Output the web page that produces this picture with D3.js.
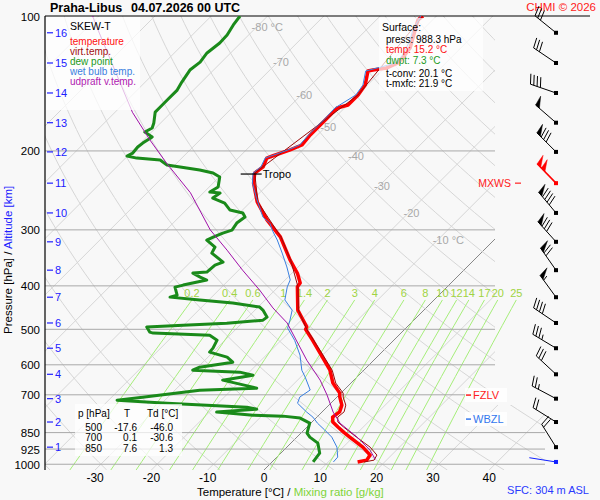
<!DOCTYPE html>
<html><head><meta charset="utf-8">
<script src="https://cdn.jsdelivr.net/npm/d3@7"></script>
<style>
body{margin:0;background:#f8f8f8;}
svg{display:block;font-family:"Liberation Sans",Arial,Helvetica,sans-serif;}
</style>
</head><body>
<svg id="c" width="600" height="500"></svg>
<script>
// ---------------- DATA ----------------
const pressureTicks = [100,200,300,400,500,600,700,850,925,1000];
const tempTicks = [-30,-20,-10,0,10,20,30,40];
const altKm = [1,2,3,4,5,6,7,8,9,10,11,12,13,14,15,16];
const altP  = [916,805,714,630,551,484,424,369,319,275,236,201,173,148.5,127.3,109];
const mixRatios = [0.2,0.4,0.6,1,1.4,2,3,4,6,8,10,12,14,17,20,25];
const isoLabelT = [-80,-70,-60,-50,-40,-30,-20,-10];
const isoLabelP = [105.8,126.6,150,177,205,239.6,275,316];

const tempP = [988.3,979,954,916,870,850,826,805,785,764,738,708,694,659,617,565,529,500,494,453,402,394,375,350,311,285,260,236,224,217,207.5,205,199,194,184,175,169,160.4,158,150,142.6,132.7,132,130.6,127.3,122.2,117.9,113.7,107.5,103.7,102,100];
const tempT = [15.2,16.5,16.2,13.5,9.4,7.6,5.5,3.7,2.8,3.1,2.3,0.5,-0.2,-3.2,-6.0,-10.8,-14.4,-17.6,-17.8,-22.4,-26.6,-26.8,-29.0,-32.7,-38.5,-43.9,-48.8,-52.8,-54.4,-54.0,-54.9,-54.2,-52.2,-51.0,-51.3,-51.3,-51.3,-51.3,-49.9,-49.9,-50.4,-52.4,-51.7,-49.6,-48.5,-48.7,-49.0,-49.9,-51.3,-52.2,-52.6,-52.4];

const virtP = [988.3,979,954,916,870,826,805,785,764,738,708,694,659,617,565,500,453,402,350,311,260,224,150,100];
const virtT = [16.4,17.8,17.4,14.8,10.6,6.5,4.6,3.7,3.9,3.0,1.1,0.4,-2.7,-5.6,-10.5,-17.4,-22.3,-26.5,-32.6,-38.4,-48.7,-54.4,-49.9,-52.4];

const dewP = [988.3,944.6,897.3,870,852.4,809.7,789,781,777.1,765,753.5,746,730.6,719.5,708.5,683.4,676.9,673,649.2,632.8,623.1,616.7,607.3,591.9,576.8,562.2,550.8,528.6,515.2,509.8,507.2,494.4,489.4,484.4,477,469.7,452.9,446.1,437,430.3,423.8,419.4,402.5,398.4,388.3,382.4,374.6,372.7,359.5,354,338,327.7,316.2,311.3,305,300.3,289.7,280.9,275.2,271,261.4,254.8,248.3,247,240.8,228.7,224,220.6,217.3,215,209.6,207.5,205.3,202.2,196,192.1,186.2,181.5,177.8,173.3,163.8,159.6,154,146.3,140.4,132,126.7,120.9,114.9,110.3,104.7,100];
const dewT = [7.3,6.9,4.8,2.3,1.1,-0.2,-2.8,-6.2,-11.7,-18.7,-12.1,-14.2,-29.1,-38.5,-34.5,-25.6,-15.8,-16.7,-23.3,-18.8,-21.7,-30.4,-29.7,-24.7,-26.6,-30.6,-30.7,-31.4,-33.6,-44.0,-44.8,-46.2,-40.1,-32.7,-26.8,-26.6,-28.6,-29.7,-35.2,-41.6,-47.4,-46.5,-48.3,-47.2,-43.9,-45.6,-47.6,-45.3,-45.1,-44.2,-47.8,-48.3,-51.0,-50.4,-49.4,-48.3,-48.7,-48.3,-49.4,-52.2,-54.4,-57.4,-57.0,-59.0,-58.4,-59.9,-61.8,-64.7,-68.7,-71.4,-73.5,-78.0,-80.1,-79.6,-79.8,-79.6,-79.0,-81.2,-80.6,-81.2,-82.9,-82.9,-82.9,-82.9,-83.5,-84.2,-83.8,-84.2,-83.7,-83.8,-84.5,-84.9];

const wetP = [988.3,964,916,870,839,810,785,765,731,708,683,639,617,571,529,497,477,453,430,402,388,363,338,316,303,290,281,255,236,224,217,207.5,199,194,184,169,160.4,150,142.6,132.7,127.3,122.2,113.7,107.5,100];
const wetT = [10.9,10.8,8.9,6.2,3.7,1.2,-0.7,-2.7,-5.9,-6.6,-6.0,-9.2,-11.0,-14.0,-17.6,-21.0,-22.0,-23.4,-26.5,-28.4,-29.1,-32.0,-35.3,-38.5,-40.7,-42.8,-45.1,-49.6,-53.0,-54.7,-54.4,-55.2,-52.6,-51.4,-51.6,-51.6,-51.7,-50.3,-50.8,-52.8,-48.9,-49.1,-50.3,-51.7,-52.8];

const updP = [974,930,870,810,765,701,649,586,484,448,409,369,333,300,248,213,189,164,106,100];
const updT = [17.8,15.3,10.7,5.2,2.0,-2.1,-6.0,-11.9,-22.0,-27.2,-32.7,-39.3,-45.6,-52.2,-62.3,-71.8,-78.9,-86.9,-108.3,-111.1];

const windP   = [988.3,916,805,714,630,551,484,424,369,319,275,236,201,173,148.5,127.3,109];
const windDir = [279,328,302,298,313,301,304,324,325,318,320,316,315,311,289,304,309];
const windSpd = [3,20,20,25,30,35,40,55,70,80,90,100,80,50,40,30,30];
const maxWindP = 236;

const tropoP = 225.2, tropoT = -54.4;
const fzlvP = 701, wbzlP = 793;

const tableP  = [500,700,850];
const tableT  = ["-17.6","0.1","7.6"];
const tableTd = ["-46.0","-30.6","1.3"];

const surfaceLines = ["press: 988.3 hPa","temp: 15.2 °C","dwpt: 7.3 °C","t-conv: 20.1 °C","t-mxfc: 21.9 °C"];
const legendNames = ["temperature","virt.temp.","dew point","wet bulb temp.","udpraft v.temp."];
const legendColors = ["#ff1010","#a01010","#1a9a1a","#3a80e0","#b020b0"];

// ---------------- SCALES ----------------
const svg = d3.select("#c");
svg.append("rect").attr("width",600).attr("height",500).attr("fill","#f8f8f8");
const PL = 45, PR = 495, PT = 16, PB = 470;
const y = d3.scaleLog().domain([100,1030]).range([PT,PB]);
const xT = d3.scaleLinear().domain([-40,40]).range([264-225.2,264+225.2]);
const sx = (T,p) => xT(T) + (PB - y(p));

const defs = svg.append("defs");
const cp = defs.append("clipPath").attr("id","gridclip");
cp.append("rect").attr("x",PL).attr("y",PT).attr("width",PR-PL).attr("height",PB-PT);
cp.append("rect").attr("x",PR).attr("y",405).attr("width",50).attr("height",PB-405);
const cp2 = defs.append("clipPath").attr("id","plotclip");
cp2.append("rect").attr("x",PL).attr("y",PT).attr("width",500).attr("height",PB-PT);

const grid = svg.append("g").attr("clip-path","url(#gridclip)");
const logSamples = (p0,p1,n) => d3.range(n+1).map(i => p0*Math.pow(p1/p0, i/n));

// isotherms
d3.range(-130,51,10).forEach(T => {
  grid.append("line")
    .attr("x1",sx(T,1030)).attr("y1",y(1030))
    .attr("x2",sx(T,100)).attr("y2",y(100))
    .attr("stroke",T===0?"#7a7a7a":"#d6d6d6").attr("stroke-width",T===0?0.9:1);
});
// dry adiabats
const pAd = logSamples(1030,100,60);
const lineTP = d3.line().x(d=>sx(d[1],d[0])).y(d=>y(d[0]));
d3.range(-60,251,10).forEach(th => {
  const pts = pAd.map(p => [p,(th+273.15)*Math.pow(p/1000,0.2857)-273.15]);
  grid.append("path").attr("d",lineTP(pts)).attr("fill","none").attr("stroke","#d6d6d6").attr("stroke-width",1);
});
// mixing ratio lines
const tdFromW = (w,p) => { const e = w*p/(622+w); const l = Math.log(e/6.112); return 243.5*l/(17.67-l); };
const mixTop = 430;
const mixG = svg.append("g");
mixRatios.forEach(w => {
  const pts = logSamples(1030,mixTop,20).map(p => [p,tdFromW(w,p)]);
  mixG.append("path").attr("d",lineTP(pts)).attr("fill","none").attr("stroke","#a6ee7a").attr("stroke-width",1);
  mixG.append("text").attr("x",sx(tdFromW(w,mixTop),mixTop)).attr("y",y(mixTop)-3)
    .attr("text-anchor","middle").attr("font-size",11).attr("fill","#9fd443").text(w);
});
// pressure lines
pressureTicks.forEach(p => {
  if (p===100) return;
  svg.append("line").attr("x1",PL).attr("x2",p>=850?545:PR).attr("y1",y(p)).attr("y2",y(p))
    .attr("stroke","#a8a8a8").attr("stroke-width",1);
});
svg.append("line").attr("x1",PL).attr("x2",590).attr("y1",y(100)).attr("y2",y(100)).attr("stroke","#000").attr("stroke-width",1.2);
svg.append("line").attr("x1",PL).attr("x2",PL).attr("y1",PT).attr("y2",PB).attr("stroke","#000").attr("stroke-width",1.2);

// isotherm labels
isoLabelT.forEach((T,i) => {
  const p = isoLabelP[i];
  svg.append("text").attr("x",sx(T,p)-5).attr("y",y(p)+4).attr("font-size",11).attr("fill","#a8a8a8")
    .text(T + ((T===-80||T===-10)?" °C":""));
});

// ---------------- PROFILES ----------------
const prof = svg.append("g").attr("clip-path","url(#plotclip)");
const zipP = (P,T) => P.map((p,i)=>[p,T[i]]);
prof.append("path").attr("d",lineTP(zipP(dewP,dewT))).attr("fill","none").attr("stroke","#1a8a1a").attr("stroke-width",3).attr("stroke-linejoin","round");
prof.append("path").attr("d",lineTP(zipP(tempP,tempT))).attr("fill","none").attr("stroke","#ff0000").attr("stroke-width",3.5).attr("stroke-linejoin","round");
prof.append("path").attr("d",lineTP(zipP(virtP,virtT))).attr("fill","none").attr("stroke","#9a0a0a").attr("stroke-width",1);
prof.append("path").attr("d",lineTP(zipP(wetP,wetT))).attr("fill","none").attr("stroke","#3a80e0").attr("stroke-width",1);
prof.append("path").attr("d",lineTP(zipP(updP,updT))).attr("fill","none").attr("stroke","#a010a8").attr("stroke-width",1);

// ---------------- BOXES ----------------
const font = (s,sz,fill) => s.attr("font-size",sz).attr("fill",fill||"#000");
svg.append("rect").attr("x",PL+1).attr("y",17).attr("width",94).attr("height",93).attr("fill","#fff").attr("opacity",0.72);
font(svg.append("text").attr("x",70).attr("y",30),10.5).text("SKEW-T");
legendNames.forEach((n,i) => font(svg.append("text").attr("x",70).attr("y",45+i*10),10,legendColors[i]).text(n));

svg.append("rect").attr("x",379).attr("y",18).attr("width",104).attr("height",73).attr("fill","#fff").attr("opacity",0.72);
font(svg.append("text").attr("x",382).attr("y",31),10.5).text("Surface:");
const sfcY = [42.5,53,63.5,76.5,87];
const sfcC = ["#000","#ff1010","#1a9a1a","#000","#000"];
surfaceLines.forEach((s,i) => font(svg.append("text").attr("x",386).attr("y",sfcY[i]),10,sfcC[i]).text(s));

svg.append("rect").attr("x",75).attr("y",404).attr("width",107).attr("height",52).attr("fill","#fff").attr("opacity",0.72);
font(svg.append("text").attr("x",78).attr("y",417),10).text("p [hPa]");
font(svg.append("text").attr("x",124).attr("y",417),10).text("T");
font(svg.append("text").attr("x",147).attr("y",417),10).text("Td [°C]");
tableP.forEach((p,i) => {
  const yy = 430.5 + i*10.5;
  font(svg.append("text").attr("x",102).attr("y",yy).attr("text-anchor","end"),10).text(p);
  font(svg.append("text").attr("x",137).attr("y",yy).attr("text-anchor","end"),10).text(tableT[i]);
  font(svg.append("text").attr("x",173).attr("y",yy).attr("text-anchor","end"),10).text(tableTd[i]);
});

// ---------------- AXES TEXT ----------------
pressureTicks.forEach(p => {
  font(svg.append("text").attr("x",40).attr("y",y(p)+4.5).attr("text-anchor","end"),11.5).text(p);
});
altKm.forEach((k,i) => {
  const yy = y(altP[i]);
  svg.append("line").attr("x1",47).attr("x2",53).attr("y1",yy).attr("y2",yy).attr("stroke","#2020ff").attr("stroke-width",1.2);
  font(svg.append("text").attr("x",55).attr("y",yy+4),11,"#2020ff").text(k);
});
tempTicks.forEach(T => {
  font(svg.append("text").attr("x",xT(T)).attr("y",482).attr("text-anchor","middle"),12).text(T);
});
const xt = font(svg.append("text").attr("x",197).attr("y",496),11.5);
xt.append("tspan").text("Temperature [°C]  /  ");
xt.append("tspan").attr("fill","#7fd43a").text("Mixing ratio [g/kg]");
const yt = font(svg.append("text").attr("transform","translate(12,334) rotate(-90)"),11.5);
yt.append("tspan").text("Pressure [hPa]  /  ");
yt.append("tspan").attr("fill","#2020ff").text("Altitude [km]");
font(svg.append("text").attr("x",589).attr("y",494).attr("text-anchor","end"),11,"#2a3aff").text("SFC: 304 m ASL");
font(svg.append("text").attr("x",596).attr("y",11).attr("text-anchor","end"),11.5,"#ff2020").text("CHMI © 2026");
font(svg.append("text").attr("x",50).attr("y",12).attr("font-weight","bold"),12.5).text("Praha-Libus");
font(svg.append("text").attr("x",131).attr("y",12).attr("font-weight","bold"),12.5).text("04.07.2026 00 UTC");

// tropopause
const tx = sx(tropoT,tropoP), ty = y(tropoP);
svg.append("line").attr("x1",tx-13).attr("x2",tx+8).attr("y1",ty).attr("y2",ty).attr("stroke","#000").attr("stroke-width",1.2);
font(svg.append("text").attr("x",tx+9).attr("y",ty+4),11).text("Tropo");

// FZLV / WBZL
[[fzlvP,"FZLV","#ff2020"],[wbzlP,"WBZL","#3377ee"]].forEach(d => {
  const yy = y(d[0]);
  svg.append("rect").attr("x",465).attr("y",yy-7).attr("width",42).attr("height",14).attr("fill","#fff").attr("opacity",0.85);
  svg.append("line").attr("x1",466).attr("x2",471).attr("y1",yy).attr("y2",yy).attr("stroke",d[2]).attr("stroke-width",1.5);
  font(svg.append("text").attr("x",473).attr("y",yy+4),11,d[2]).text(d[1]);
});
// MXWS
const my = y(maxWindP);
font(svg.append("text").attr("x",511).attr("y",my+4).attr("text-anchor","end"),10.5,"#ff2020").text("MXWS");
svg.append("line").attr("x1",515).attr("x2",521).attr("y1",my).attr("y2",my).attr("stroke","#ff2020").attr("stroke-width",1.2);

// ---------------- WIND BARBS ----------------
const bx = 556;
const barbs = svg.append("g");
windP.forEach((p,i) => {
  const cy = y(p), dir = windDir[i], spd = windSpd[i];
  const isMax = p===maxWindP, isSfc = i===0;
  const col = isMax ? "#ff0000" : (isSfc ? "#1020ff" : "#000");
  const sw = isMax ? 1.6 : 1;
  const a = dir*Math.PI/180;
  const ux = Math.sin(a), uy = -Math.cos(a);
  const rx = -uy, ry = ux;
  const L = 27;
  const P = s => [bx+ux*s, cy+uy*s];
  barbs.append("line").attr("x1",bx).attr("y1",cy).attr("x2",P(L)[0]).attr("y2",P(L)[1]).attr("stroke",col).attr("stroke-width",sw);
  let rem = Math.round(spd/5)*5, s = L;
  while (rem >= 50) {
    const a0 = P(s), a1 = P(s-5);
    const ap = [a0[0]+rx*10+ux*2, a0[1]+ry*10+uy*2];
    barbs.append("polygon").attr("points",[a0,a1,ap].map(q=>q.join(",")).join(" ")).attr("fill",col).attr("stroke",col).attr("stroke-width",0.5);
    s -= 6; rem -= 50;
  }
  while (rem >= 10) {
    const a0 = P(s);
    barbs.append("line").attr("x1",a0[0]).attr("y1",a0[1]).attr("x2",a0[0]+rx*10+ux*3).attr("y2",a0[1]+ry*10+uy*3).attr("stroke",col).attr("stroke-width",sw);
    s -= 3.5; rem -= 10;
  }
  if (rem >= 5 && spd >= 5) {
    if (s === L) s -= 3.5;
    const a0 = P(s);
    barbs.append("line").attr("x1",a0[0]).attr("y1",a0[1]).attr("x2",a0[0]+rx*5+ux*1.5).attr("y2",a0[1]+ry*5+uy*1.5).attr("stroke",col).attr("stroke-width",sw);
  }
  barbs.append("rect").attr("x",bx-2).attr("y",cy-2).attr("width",4).attr("height",4).attr("fill",col);
});
</script>
</body></html>
